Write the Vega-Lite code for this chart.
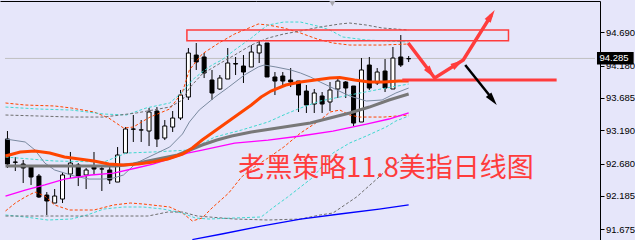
{
"$schema":"https://vega.github.io/schema/vega-lite/v6.json",
"width":600,"height":239,"autosize":"none",
"padding":{"left":0,"top":1,"right":35,"bottom":0},
"background":"#e6e6fa",
"config":{"view":{"stroke":null},"axis":{"grid":false,"labelOverlap":false,"labelFlush":false,"title":null}},
"datasets":{
"candles":[
{"i":0,"o":93.057,"h":93.179,"l":92.613,"c":92.674},
{"i":1,"o":92.705,"h":92.781,"l":92.567,"c":92.700},
{"i":2,"o":92.674,"h":92.735,"l":92.383,"c":92.613},
{"i":3,"o":92.628,"h":92.659,"l":92.353,"c":92.475},
{"i":4,"o":92.490,"h":92.521,"l":92.154,"c":92.169},
{"i":5,"o":92.199,"h":92.245,"l":91.894,"c":92.108},
{"i":6,"o":92.077,"h":92.291,"l":92.077,"c":92.184},
{"i":7,"o":92.138,"h":92.552,"l":92.077,"c":92.506},
{"i":8,"o":92.521,"h":92.858,"l":92.460,"c":92.689},
{"i":9,"o":92.659,"h":92.689,"l":92.337,"c":92.490},
{"i":10,"o":92.506,"h":92.613,"l":92.291,"c":92.582},
{"i":11,"o":92.628,"h":92.858,"l":92.521,"c":92.597},
{"i":12,"o":92.597,"h":92.643,"l":92.261,"c":92.600},
{"i":13,"o":92.582,"h":92.628,"l":92.368,"c":92.429},
{"i":14,"o":92.398,"h":92.934,"l":92.398,"c":92.812},
{"i":15,"o":92.842,"h":93.240,"l":92.842,"c":93.210},
{"i":16,"o":93.210,"h":93.424,"l":93.011,"c":93.207},
{"i":17,"o":93.194,"h":93.347,"l":93.011,"c":93.197},
{"i":18,"o":93.179,"h":93.531,"l":92.949,"c":93.470},
{"i":19,"o":93.485,"h":93.546,"l":92.934,"c":93.057},
{"i":20,"o":93.072,"h":93.347,"l":93.041,"c":93.256},
{"i":21,"o":93.240,"h":93.485,"l":93.164,"c":93.378},
{"i":22,"o":93.378,"h":93.807,"l":93.347,"c":93.730},
{"i":23,"o":93.699,"h":94.449,"l":93.654,"c":94.373},
{"i":24,"o":94.342,"h":94.526,"l":94.113,"c":94.235},
{"i":25,"o":94.312,"h":94.373,"l":93.990,"c":94.067},
{"i":26,"o":93.960,"h":94.113,"l":93.654,"c":93.761},
{"i":27,"o":93.822,"h":94.036,"l":93.807,"c":93.990},
{"i":28,"o":93.975,"h":94.449,"l":93.975,"c":94.220},
{"i":29,"o":94.212,"h":94.312,"l":94.036,"c":94.204},
{"i":30,"o":94.174,"h":94.342,"l":93.914,"c":94.082},
{"i":31,"o":94.159,"h":94.495,"l":94.159,"c":94.388},
{"i":32,"o":94.373,"h":94.572,"l":94.220,"c":94.495},
{"i":33,"o":94.526,"h":94.526,"l":94.006,"c":94.006},
{"i":34,"o":94.006,"h":94.082,"l":93.730,"c":93.944},
{"i":35,"o":94.021,"h":94.082,"l":93.868,"c":93.944},
{"i":36,"o":93.960,"h":94.143,"l":93.852,"c":93.929},
{"i":37,"o":93.944,"h":93.944,"l":93.470,"c":93.730},
{"i":38,"o":93.791,"h":93.883,"l":93.455,"c":93.577},
{"i":39,"o":93.592,"h":93.822,"l":93.455,"c":93.761},
{"i":40,"o":93.715,"h":93.776,"l":93.455,"c":93.592},
{"i":41,"o":93.623,"h":93.929,"l":93.485,"c":93.807},
{"i":42,"o":93.822,"h":94.006,"l":93.684,"c":93.944},
{"i":43,"o":93.929,"h":93.944,"l":93.684,"c":93.837},
{"i":44,"o":93.868,"h":93.868,"l":93.256,"c":93.301},
{"i":45,"o":93.317,"h":94.296,"l":93.317,"c":94.113},
{"i":46,"o":94.189,"h":94.312,"l":93.807,"c":93.837},
{"i":47,"o":93.914,"h":94.143,"l":93.883,"c":94.082},
{"i":48,"o":94.097,"h":94.281,"l":93.776,"c":93.837},
{"i":49,"o":93.822,"h":94.465,"l":93.822,"c":94.296},
{"i":50,"o":94.312,"h":94.648,"l":94.159,"c":94.189},
{"i":51,"o":94.287,"h":94.327,"l":94.235,"c":94.285}
],
"dash":[
{"s":"ou","i":-0.25,"p":93.608},{"s":"ou","i":2.25,"p":93.577},{"s":"ou","i":6.0,"p":93.562},{"s":"ou","i":8.125,"p":93.531},{"s":"ou","i":11.0,"p":93.470},{"s":"ou","i":12.875,"p":93.378},{"s":"ou","i":14.75,"p":93.225},{"s":"ou","i":16.0,"p":93.240},{"s":"ou","i":18.125,"p":93.393},{"s":"ou","i":20.625,"p":93.516},{"s":"ou","i":22.25,"p":93.776},{"s":"ou","i":23.125,"p":94.113},{"s":"ou","i":24.75,"p":94.358},{"s":"ou","i":26.875,"p":94.526},{"s":"ou","i":28.875,"p":94.664},{"s":"ou","i":31.0,"p":94.771},{"s":"ou","i":31.875,"p":94.817},{"s":"ou","i":33.125,"p":94.801},{"s":"ou","i":35.125,"p":94.756},{"s":"ou","i":37.25,"p":94.679},{"s":"ou","i":39.375,"p":94.587},{"s":"ou","i":41.375,"p":94.526},{"s":"ou","i":43.5,"p":94.495},{"s":"ou","i":47.625,"p":94.495},{"s":"ou","i":51.0,"p":94.511},
{"s":"ol","i":-0.25,"p":91.955},{"s":"ol","i":1.0,"p":92.077},{"s":"ol","i":2.25,"p":92.169},{"s":"ol","i":3.5,"p":92.245},{"s":"ol","i":4.75,"p":92.184},{"s":"ol","i":6.0,"p":92.047},{"s":"ol","i":7.875,"p":91.970},{"s":"ol","i":11.0,"p":91.970},{"s":"ol","i":13.5,"p":92.047},{"s":"ol","i":15.625,"p":92.077},{"s":"ol","i":17.25,"p":92.062},{"s":"ol","i":20.625,"p":92.016},{"s":"ol","i":22.25,"p":91.924},{"s":"ol","i":23.5,"p":91.802},{"s":"ol","i":24.75,"p":91.848},{"s":"ol","i":26.0,"p":92.001},{"s":"ol","i":28.125,"p":92.230},{"s":"ol","i":29.75,"p":92.475},{"s":"ol","i":31.375,"p":92.628},{"s":"ol","i":33.125,"p":92.766},{"s":"ol","i":35.125,"p":92.934},{"s":"ol","i":37.25,"p":93.148},{"s":"ol","i":39.75,"p":93.347},{"s":"ol","i":41.0,"p":93.470},{"s":"ol","i":42.25,"p":93.500},{"s":"ol","i":43.5,"p":93.424},{"s":"ol","i":44.75,"p":93.393},{"s":"ol","i":47.875,"p":93.393},{"s":"ol","i":51.0,"p":93.424},
{"s":"cu","i":-0.25,"p":93.546},{"s":"cu","i":3.875,"p":93.516},{"s":"cu","i":8.125,"p":93.500},{"s":"cu","i":12.25,"p":93.439},{"s":"cu","i":15.125,"p":93.424},{"s":"cu","i":17.625,"p":93.531},{"s":"cu","i":20.625,"p":93.608},{"s":"cu","i":22.25,"p":93.776},{"s":"cu","i":23.5,"p":93.960},{"s":"cu","i":24.75,"p":94.082},{"s":"cu","i":26.0,"p":94.189},{"s":"cu","i":27.25,"p":94.266},{"s":"cu","i":28.875,"p":94.419},{"s":"cu","i":31.0,"p":94.602},{"s":"cu","i":32.25,"p":94.725},{"s":"cu","i":33.125,"p":94.801},{"s":"cu","i":35.125,"p":94.847},{"s":"cu","i":37.25,"p":94.847},{"s":"cu","i":39.375,"p":94.786},{"s":"cu","i":41.0,"p":94.725},{"s":"cu","i":42.625,"p":94.618},{"s":"cu","i":45.625,"p":94.572},{"s":"cu","i":51.0,"p":94.541},
{"s":"cm","i":-0.25,"p":92.781},{"s":"cm","i":6.0,"p":92.720},{"s":"cm","i":12.25,"p":92.705},{"s":"cm","i":15.125,"p":92.842},{"s":"cm","i":18.5,"p":92.858},{"s":"cm","i":23.125,"p":92.888},{"s":"cm","i":26.375,"p":93.087},{"s":"cm","i":29.75,"p":93.194},{"s":"cm","i":33.125,"p":93.317},{"s":"cm","i":35.375,"p":93.439},{"s":"cm","i":37.25,"p":93.531},{"s":"cm","i":39.75,"p":93.638},{"s":"cm","i":43.5,"p":93.730},{"s":"cm","i":48.125,"p":93.837},{"s":"cm","i":51.0,"p":93.898},
{"s":"cl","i":-0.25,"p":91.894},{"s":"cl","i":2.25,"p":91.863},{"s":"cl","i":5.125,"p":91.817},{"s":"cl","i":8.125,"p":91.832},{"s":"cl","i":10.125,"p":91.894},{"s":"cl","i":12.25,"p":91.985},{"s":"cl","i":14.75,"p":92.016},{"s":"cl","i":17.25,"p":92.016},{"s":"cl","i":19.75,"p":91.985},{"s":"cl","i":22.25,"p":91.924},{"s":"cl","i":23.875,"p":91.848},{"s":"cl","i":25.625,"p":91.832},{"s":"cl","i":28.875,"p":91.848},{"s":"cl","i":32.25,"p":91.863},{"s":"cl","i":33.875,"p":92.016},{"s":"cl","i":35.625,"p":92.169},{"s":"cl","i":37.25,"p":92.322},{"s":"cl","i":38.875,"p":92.475},{"s":"cl","i":41.375,"p":92.842},{"s":"cl","i":43.5,"p":92.995},{"s":"cl","i":45.625,"p":93.103},{"s":"cl","i":48.125,"p":93.240},{"s":"cl","i":49.375,"p":93.332},{"s":"cl","i":51.0,"p":93.409},
{"s":"gu","i":-0.25,"p":93.424},{"s":"gu","i":3.875,"p":93.409},{"s":"gu","i":8.125,"p":93.393},{"s":"gu","i":12.25,"p":93.393},{"s":"gu","i":16.375,"p":93.455},{"s":"gu","i":20.625,"p":93.546},{"s":"gu","i":22.25,"p":93.654},{"s":"gu","i":23.125,"p":93.837},{"s":"gu","i":24.75,"p":94.051},{"s":"gu","i":26.875,"p":94.204},{"s":"gu","i":28.875,"p":94.342},{"s":"gu","i":31.0,"p":94.495},{"s":"gu","i":33.125,"p":94.602},{"s":"gu","i":35.125,"p":94.664},{"s":"gu","i":37.25,"p":94.710},{"s":"gu","i":39.75,"p":94.771},{"s":"gu","i":42.25,"p":94.817},{"s":"gu","i":43.5,"p":94.832},{"s":"gu","i":45.625,"p":94.801},{"s":"gu","i":47.625,"p":94.756},{"s":"gu","i":51.0,"p":94.725},
{"s":"gl","i":-0.25,"p":91.878},{"s":"gl","i":17.875,"p":91.878},{"s":"gl","i":20.375,"p":91.939},{"s":"gl","i":22.25,"p":91.939},{"s":"gl","i":24.125,"p":91.878},{"s":"gl","i":28.875,"p":91.832},{"s":"gl","i":33.125,"p":91.817},{"s":"gl","i":37.25,"p":91.832},{"s":"gl","i":39.75,"p":91.894},{"s":"gl","i":41.375,"p":91.924},{"s":"gl","i":44.375,"p":92.169},{"s":"gl","i":46.375,"p":92.383},{"s":"gl","i":48.5,"p":92.613},{"s":"gl","i":51.0,"p":92.796}
],
"solid":[
{"s":"gm","i":-0.25,"p":92.643},{"s":"gm","i":4.75,"p":92.643},{"s":"gm","i":9.75,"p":92.643},{"s":"gm","i":13.875,"p":92.643},{"s":"gm","i":16.0,"p":92.674},{"s":"gm","i":17.875,"p":92.720},{"s":"gm","i":19.75,"p":92.766},{"s":"gm","i":21.625,"p":92.812},{"s":"gm","i":22.875,"p":92.873},{"s":"gm","i":24.75,"p":92.965},{"s":"gm","i":26.625,"p":93.041},{"s":"gm","i":28.5,"p":93.103},{"s":"gm","i":31.0,"p":93.164},{"s":"gm","i":33.5,"p":93.210},{"s":"gm","i":36.0,"p":93.256},{"s":"gm","i":38.5,"p":93.301},{"s":"gm","i":41.0,"p":93.378},{"s":"gm","i":43.5,"p":93.455},{"s":"gm","i":46.0,"p":93.546},{"s":"gm","i":48.5,"p":93.654},{"s":"gm","i":51.0,"p":93.745},
{"s":"om","i":-0.25,"p":92.796},{"s":"om","i":1.625,"p":92.858},{"s":"om","i":3.5,"p":92.873},{"s":"om","i":5.375,"p":92.842},{"s":"om","i":7.25,"p":92.781},{"s":"om","i":9.125,"p":92.751},{"s":"om","i":11.0,"p":92.720},{"s":"om","i":12.875,"p":92.674},{"s":"om","i":14.75,"p":92.659},{"s":"om","i":16.625,"p":92.674},{"s":"om","i":18.5,"p":92.705},{"s":"om","i":20.375,"p":92.751},{"s":"om","i":22.25,"p":92.827},{"s":"om","i":23.5,"p":92.919},{"s":"om","i":24.75,"p":93.041},{"s":"om","i":26.0,"p":93.148},{"s":"om","i":27.25,"p":93.256},{"s":"om","i":28.5,"p":93.363},{"s":"om","i":29.75,"p":93.470},{"s":"om","i":31.0,"p":93.577},{"s":"om","i":32.25,"p":93.699},{"s":"om","i":33.5,"p":93.791},{"s":"om","i":35.375,"p":93.883},{"s":"om","i":37.25,"p":93.929},{"s":"om","i":39.125,"p":93.960},{"s":"om","i":41.0,"p":93.990},{"s":"om","i":42.25,"p":93.998},{"s":"om","i":44.125,"p":93.960},{"s":"om","i":46.0,"p":93.929},{"s":"om","i":47.875,"p":93.929},{"s":"om","i":49.75,"p":93.944},{"s":"om","i":51.0,"p":93.944},
{"s":"mg","i":-0.25,"p":92.184},{"s":"mg","i":2.25,"p":92.276},{"s":"mg","i":4.75,"p":92.353},{"s":"mg","i":7.25,"p":92.444},{"s":"mg","i":10.625,"p":92.506},{"s":"mg","i":13.5,"p":92.536},{"s":"mg","i":16.375,"p":92.613},{"s":"mg","i":18.5,"p":92.674},{"s":"mg","i":20.625,"p":92.751},{"s":"mg","i":22.875,"p":92.842},{"s":"mg","i":24.75,"p":92.888},{"s":"mg","i":28.875,"p":92.995},{"s":"mg","i":33.125,"p":93.041},{"s":"mg","i":37.25,"p":93.103},{"s":"mg","i":41.375,"p":93.179},{"s":"mg","i":45.625,"p":93.286},{"s":"mg","i":48.5,"p":93.363},{"s":"mg","i":51.0,"p":93.455},
{"s":"bl","i":23.5,"p":91.518},{"s":"bl","i":27.25,"p":91.603},{"s":"bl","i":32.25,"p":91.725},{"s":"bl","i":37.25,"p":91.832},{"s":"bl","i":42.25,"p":91.909},{"s":"bl","i":47.25,"p":91.985},{"s":"bl","i":51.0,"p":92.047},
{"s":"sl","i":-0.25,"p":93.057},{"s":"sl","i":2.25,"p":93.011},{"s":"sl","i":3.5,"p":92.888},{"s":"sl","i":4.75,"p":92.689},{"s":"sl","i":6.0,"p":92.582},{"s":"sl","i":7.25,"p":92.536},{"s":"sl","i":8.5,"p":92.490},{"s":"sl","i":10.375,"p":92.444},{"s":"sl","i":12.25,"p":92.444},{"s":"sl","i":13.5,"p":92.460},{"s":"sl","i":14.75,"p":92.506},{"s":"sl","i":16.375,"p":92.689},{"s":"sl","i":18.5,"p":92.812},{"s":"sl","i":20.625,"p":92.934},{"s":"sl","i":22.25,"p":93.133},{"s":"sl","i":23.125,"p":93.317},{"s":"sl","i":24.375,"p":93.500},{"s":"sl","i":26.375,"p":93.699},{"s":"sl","i":28.125,"p":93.852},{"s":"sl","i":30.125,"p":94.036},{"s":"sl","i":31.875,"p":94.159},{"s":"sl","i":32.625,"p":94.189},{"s":"sl","i":34.125,"p":94.159},{"s":"sl","i":36.0,"p":94.113},{"s":"sl","i":37.25,"p":94.067},{"s":"sl","i":38.5,"p":94.006},{"s":"sl","i":39.75,"p":93.929},{"s":"sl","i":41.625,"p":93.822},{"s":"sl","i":43.5,"p":93.715},{"s":"sl","i":45.625,"p":93.638},{"s":"sl","i":47.625,"p":93.654},{"s":"sl","i":49.375,"p":93.761},{"s":"sl","i":51.0,"p":93.837}
]
},
"resolve":{"scale":{"color":"independent"}},
"layer":[
{"data":{"values":[{"i":-0.3125,"i2":74.6875,"p":94.29}]},
 "mark":{"type":"rule","color":"#c0c0c0","strokeWidth":1},
 "encoding":{
  "x":{"field":"i","type":"quantitative","scale":{"domain":[-0.3125,74.6875],"nice":false,"zero":false},
       "axis":{"orient":"top","domain":true,"domainColor":"black","domainWidth":1,"ticks":false,"labels":false,"grid":false,"title":null}},
  "x2":{"field":"i2"},
  "y":{"field":"p","type":"quantitative","scale":{"domain":[91.511,95.169],"nice":false,"zero":false},
       "axis":{"orient":"right","values":[91.675,92.185,92.68,93.19,93.685,94.18,94.69],"tickCount":20,"format":".3f","domain":true,"domainColor":"black","domainWidth":1,"ticks":true,"tickColor":"black","tickSize":4,"tickWidth":1,"labelColor":"black","labelFont":"Liberation Sans","labelFontSize":9.5,"labelPadding":1.5,"labelFlush":false,"labelOverlap":false,"grid":false,"title":null}}
 }},
{"data":{"name":"candles"},
 "mark":{"type":"rule","color":"black","strokeWidth":1},
 "encoding":{
  "x":{"field":"i","type":"quantitative","scale":{"domain":[-0.3125,74.6875],"nice":false,"zero":false}},
  "y":{"field":"l","type":"quantitative","scale":{"domain":[91.511,95.169],"nice":false,"zero":false}},
  "y2":{"field":"h"}
 }},
{"data":{"name":"candles"},
 "mark":{"type":"bar","size":4,"stroke":"black","strokeWidth":1},
 "encoding":{
  "x":{"field":"i","type":"quantitative","scale":{"domain":[-0.3125,74.6875],"nice":false,"zero":false}},
  "y":{"field":"o","type":"quantitative","scale":{"domain":[91.511,95.169],"nice":false,"zero":false}},
  "y2":{"field":"c"},
  "fill":{"condition":{"test":"datum.c >= datum.o","value":"white"},"value":"black"}
 }},
{"data":{"name":"dash"},
 "mark":{"type":"line","strokeWidth":1,"strokeDash":[3,2]},
 "encoding":{
  "x":{"field":"i","type":"quantitative","scale":{"domain":[-0.3125,74.6875],"nice":false,"zero":false}},
  "y":{"field":"p","type":"quantitative","scale":{"domain":[91.511,95.169],"nice":false,"zero":false}},
  "color":{"field":"s","type":"nominal","scale":{"domain":["ou","ol","cu","cm","cl","gu","gl"],"range":["#ff4500","#ff4500","#40d8d0","#40d8d0","#40d8d0","#6e6e6e","#6e6e6e"]},"legend":null}
 }},
{"data":{"name":"solid"},
 "transform":[{"filter":"datum.s === 'sl'"}],
 "mark":{"type":"line","color":"#7a8aa0","strokeWidth":1},
 "encoding":{
  "x":{"field":"i","type":"quantitative","scale":{"domain":[-0.3125,74.6875],"nice":false,"zero":false}},
  "y":{"field":"p","type":"quantitative","scale":{"domain":[91.511,95.169],"nice":false,"zero":false}}
 }},
{"data":{"name":"solid"},
 "transform":[{"filter":"datum.s === 'mg' || datum.s === 'bl'"}],
 "mark":{"type":"line","strokeWidth":1.3},
 "encoding":{
  "x":{"field":"i","type":"quantitative","scale":{"domain":[-0.3125,74.6875],"nice":false,"zero":false}},
  "y":{"field":"p","type":"quantitative","scale":{"domain":[91.511,95.169],"nice":false,"zero":false}},
  "color":{"field":"s","type":"nominal","scale":{"domain":["mg","bl"],"range":["#ff00ff","#0000ff"]},"legend":null}
 }},
{"data":{"name":"solid"},
 "transform":[{"filter":"datum.s === 'gm' || datum.s === 'om'"}],
 "mark":{"type":"line","strokeWidth":3},
 "encoding":{
  "x":{"field":"i","type":"quantitative","scale":{"domain":[-0.3125,74.6875],"nice":false,"zero":false}},
  "y":{"field":"p","type":"quantitative","scale":{"domain":[91.511,95.169],"nice":false,"zero":false}},
  "color":{"field":"s","type":"nominal","scale":{"domain":["gm","om"],"range":["#787878","#ff4500"]},"legend":null}
 }},
{"data":{"values":[{"i":22.81,"i2":63.69,"p":94.725,"p2":94.561}]},
 "mark":{"type":"rect","fillOpacity":0,"stroke":"#ff3c3c","strokeWidth":1.5},
 "encoding":{
  "x":{"field":"i","type":"quantitative","scale":{"domain":[-0.3125,74.6875],"nice":false,"zero":false}},
  "x2":{"field":"i2"},
  "y":{"field":"p","type":"quantitative","scale":{"domain":[91.511,95.169],"nice":false,"zero":false}},
  "y2":{"field":"p2"}
 }},
{"data":{"values":[{"i":50.19,"i2":69.81,"p":93.96}]},
 "mark":{"type":"rule","color":"#ff3c3c","strokeWidth":3},
 "encoding":{
  "x":{"field":"i","type":"quantitative","scale":{"domain":[-0.3125,74.6875],"nice":false,"zero":false}},
  "x2":{"field":"i2"},
  "y":{"field":"p","type":"quantitative","scale":{"domain":[91.511,95.169],"nice":false,"zero":false}}
 }},
{"data":{"values":[{"k":1,"i":50.94,"p":94.526},{"k":2,"i":54.31,"p":93.99},{"k":3,"i":57.94,"p":94.266},{"k":4,"i":61.49,"p":94.948}]},
 "mark":{"type":"line","color":"#ff3c3c","strokeWidth":3.5},
 "encoding":{
  "x":{"field":"i","type":"quantitative","scale":{"domain":[-0.3125,74.6875],"nice":false,"zero":false}},
  "y":{"field":"p","type":"quantitative","scale":{"domain":[91.511,95.169],"nice":false,"zero":false}},
  "order":{"field":"k","type":"quantitative"}
 }},
{"data":{"values":[{"k":1,"i":58.19,"p":94.189},{"k":2,"i":61.44,"p":93.699}]},
 "mark":{"type":"line","color":"black","strokeWidth":2.5},
 "encoding":{
  "x":{"field":"i","type":"quantitative","scale":{"domain":[-0.3125,74.6875],"nice":false,"zero":false}},
  "y":{"field":"p","type":"quantitative","scale":{"domain":[91.511,95.169],"nice":false,"zero":false}},
  "order":{"field":"k","type":"quantitative"}
 }},
{"data":{"values":[{"i":53.81,"p":94.068}]},
 "mark":{"type":"point","shape":"M0,-1L0.55,1L-0.55,1Z","size":169,"filled":true,"color":"#ff3c3c","opacity":1,"angle":142},
 "encoding":{
  "x":{"field":"i","type":"quantitative","scale":{"domain":[-0.3125,74.6875],"nice":false,"zero":false}},
  "y":{"field":"p","type":"quantitative","scale":{"domain":[91.511,95.169],"nice":false,"zero":false}}
 }},
{"data":{"values":[{"i":57.25,"p":94.212}]},
 "mark":{"type":"point","shape":"M0,-1L0.55,1L-0.55,1Z","size":169,"filled":true,"color":"#ff3c3c","opacity":1,"angle":57},
 "encoding":{
  "x":{"field":"i","type":"quantitative","scale":{"domain":[-0.3125,74.6875],"nice":false,"zero":false}},
  "y":{"field":"p","type":"quantitative","scale":{"domain":[91.511,95.169],"nice":false,"zero":false}}
 }},
{"data":{"values":[{"i":61.49,"p":94.948}]},
 "mark":{"type":"point","shape":"M0,-1L0.55,1L-0.55,1Z","size":169,"filled":true,"color":"#ff3c3c","opacity":1,"angle":33},
 "encoding":{
  "x":{"field":"i","type":"quantitative","scale":{"domain":[-0.3125,74.6875],"nice":false,"zero":false}},
  "y":{"field":"p","type":"quantitative","scale":{"domain":[91.511,95.169],"nice":false,"zero":false}}
 }},
{"data":{"values":[{"i":61.68,"p":93.655}]},
 "mark":{"type":"point","shape":"M0,-1L0.55,1L-0.55,1Z","size":169,"filled":true,"color":"black","opacity":1,"angle":141},
 "encoding":{
  "x":{"field":"i","type":"quantitative","scale":{"domain":[-0.3125,74.6875],"nice":false,"zero":false}},
  "y":{"field":"p","type":"quantitative","scale":{"domain":[91.511,95.169],"nice":false,"zero":false}}
 }},
{"data":{"values":[{"i":41.3,"p":95.13}]},
 "mark":{"type":"point","shape":"triangle-down","size":36,"filled":true,"color":"#a8a8b0","opacity":1},
 "encoding":{
  "x":{"field":"i","type":"quantitative","scale":{"domain":[-0.3125,74.6875],"nice":false,"zero":false}},
  "y":{"field":"p","type":"quantitative","scale":{"domain":[91.511,95.169],"nice":false,"zero":false}}
 }},
{"data":{"values":[{"i":29.35,"p":92.475,"t":"老黑策略11.8美指日线图"}]},
 "mark":{"type":"text","align":"left","baseline":"alphabetic","font":"Noto Sans CJK SC","fontSize":27,"color":"#ff3c3c"},
 "encoding":{
  "x":{"field":"i","type":"quantitative","scale":{"domain":[-0.3125,74.6875],"nice":false,"zero":false}},
  "y":{"field":"p","type":"quantitative","scale":{"domain":[91.511,95.169],"nice":false,"zero":false}},
  "text":{"field":"t"}
 }},
{"data":{"values":[{"i":74.94,"i2":79.6,"p":94.388,"p2":94.197}]},
 "mark":{"type":"rect","color":"black"},
 "encoding":{
  "x":{"field":"i","type":"quantitative","scale":{"domain":[-0.3125,74.6875],"nice":false,"zero":false}},
  "x2":{"field":"i2"},
  "y":{"field":"p","type":"quantitative","scale":{"domain":[91.511,95.169],"nice":false,"zero":false}},
  "y2":{"field":"p2"}
 }},
{"data":{"values":[{"i":75.25,"p":94.292,"t":"94.285"}]},
 "mark":{"type":"text","align":"left","baseline":"middle","font":"Liberation Sans","fontSize":9.5,"color":"white"},
 "encoding":{
  "x":{"field":"i","type":"quantitative","scale":{"domain":[-0.3125,74.6875],"nice":false,"zero":false}},
  "y":{"field":"p","type":"quantitative","scale":{"domain":[91.511,95.169],"nice":false,"zero":false}},
  "text":{"field":"t"}
 }}
]
}
